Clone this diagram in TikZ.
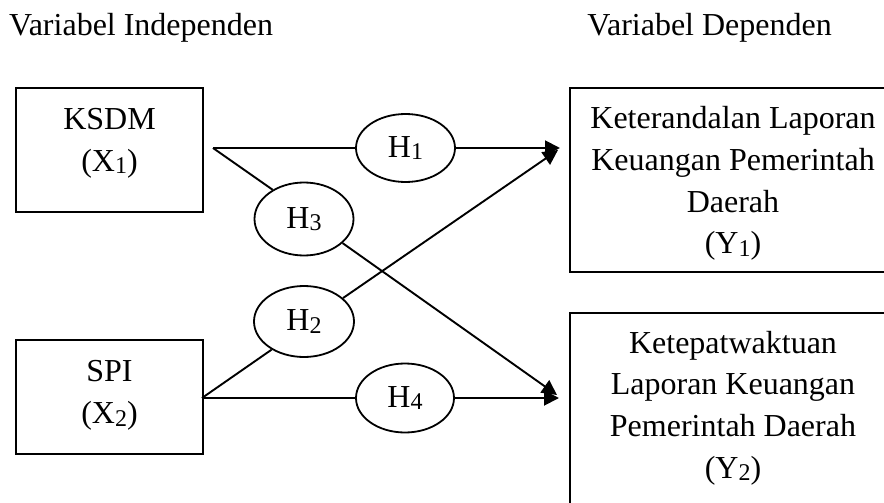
\documentclass[tikz,border=0pt]{standalone}
\usepackage{fontspec}
\setmainfont{Liberation Serif}
\usetikzlibrary{shapes.geometric,arrows.meta}
\newcommand{\mysub}[1]{\raisebox{-2.5pt}{\fontsize{24}{24}\selectfont #1}}
\begin{document}
\begin{tikzpicture}[x=1pt,y=-1pt,
  every node/.style={font=\fontsize{32}{41.7}\selectfont},
  varbox/.style={draw, line width=2pt, rectangle, inner sep=0pt},
  vartext/.style={align=center, inner sep=0pt},
  hyp/.style={draw, line width=1.8pt, ellipse, inner sep=0pt},
  conn/.style={line width=1.9pt},
  arr/.style={line width=1.9pt, -{Triangle[length=15pt,width=15pt]}},
  title/.style={inner sep=0pt}]
\useasboundingbox (0,0) rectangle (884,503);
\clip (0,0) rectangle (884,503);

% titles
\node[title, anchor=base west] (tind) at (9,36) {Variabel Independen};
\node[title, anchor=base east] (tdep) at (832,36) {Variabel Dependen};

% independent boxes
\node[varbox, minimum width=187pt, minimum height=124pt] (X1box) at (109.5,150) {};
\node[vartext] (X1) at (109.5,143) {KSDM\\(X\mysub{1})};
\node[varbox, minimum width=187pt, minimum height=114pt] (X2box) at (109.5,397) {};
\node[vartext] (X2) at (109.5,395.5) {SPI\\(X\mysub{2})};

% dependent boxes
\node[varbox, minimum width=330pt, minimum height=184pt] (Y1box) at (735,180) {};
\node[vartext] (Y1) at (733,183.5) {Keterandalan Laporan\\Keuangan Pemerintah\\Daerah\\(Y\mysub{1})};
\node[varbox, minimum width=330pt, minimum height=220pt] (Y2box) at (735,423) {};
\node[vartext] (Y2) at (733,408) {Ketepatwaktuan\\Laporan Keuangan\\Pemerintah Daerah\\(Y\mysub{2})};

% hypotheses
\node[hyp, minimum width=99pt, minimum height=68pt] (H1) at (405.5,148) {H\mysub{1}};
\node[hyp, minimum width=99pt, minimum height=73pt] (H3) at (304,219) {H\mysub{3}};
\node[hyp, minimum width=100pt, minimum height=71pt] (H2) at (304,321.5) {H\mysub{2}};
\node[hyp, minimum width=98pt, minimum height=69pt] (H4) at (405,398) {H\mysub{4}};

% junction and tip coordinates
\coordinate (k1) at (213,148);
\coordinate (s1) at (202,398);
\coordinate (t1a) at (560,148);
\coordinate (t1b) at (558,150);
\coordinate (t2a) at (559,398);
\coordinate (t2b) at (557,395);

% connectors
\draw[conn] (k1) -- (H1.west);
\draw[arr] (H1.east) -- (t1a);
\draw[conn] (k1) -- (H3.137);
\draw[arr] (H3.328) -- (t2b);
\draw[conn] (s1) -- (H2.221);
\draw[arr] (H2.31) -- (t1b);
\draw[conn] (s1) -- (H4.west);
\draw[arr] (H4.east) -- (t2a);
\end{tikzpicture}
\end{document}
